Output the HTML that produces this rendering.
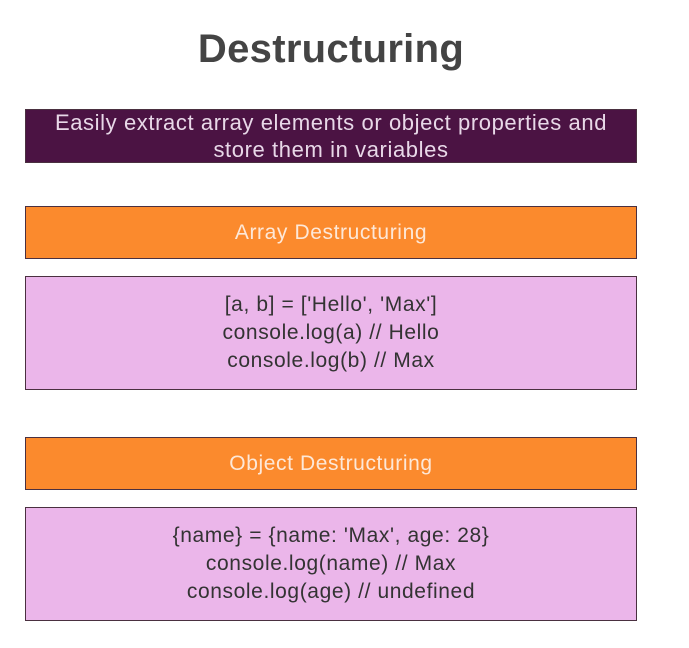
<!DOCTYPE html>
<html><head><meta charset="utf-8"><style>
body{margin:0;width:689px;height:648px;background:#fff;font-family:"Liberation Sans",sans-serif;position:relative;overflow:hidden}
.t{position:absolute;left:0;width:662px;top:27px;text-align:center;font-weight:bold;font-size:40px;color:#444;letter-spacing:0.3px}
.b{position:absolute;left:25px;width:612px;box-sizing:border-box;border:1px solid #4a3040;display:flex;flex-direction:column;justify-content:center;align-items:center;text-align:center;font-size:21px;letter-spacing:0.6px;line-height:28px}
.p{background:#4b1343;color:#e8d8e8}
.o{background:#fb8a2d;color:#fde8d8}
.k{background:#ebb6ea;color:#333}
</style></head><body>
<div class="t">Destructuring</div>
<div class="b p" style="top:109px;height:54px;line-height:27px;font-size:22px">Easily extract array elements or object properties and<br>store them in variables</div>
<div class="b o" style="top:206px;height:53px">Array Destructuring</div>
<div class="b k" style="top:276px;height:114px">[a, b] = ['Hello', 'Max']<br>console.log(a) // Hello<br>console.log(b) // Max</div>
<div class="b o" style="top:437px;height:53px">Object Destructuring</div>
<div class="b k" style="top:507px;height:114px">{name} = {name: 'Max', age: 28}<br>console.log(name) // Max<br>console.log(age) // undefined</div>
</body></html>
